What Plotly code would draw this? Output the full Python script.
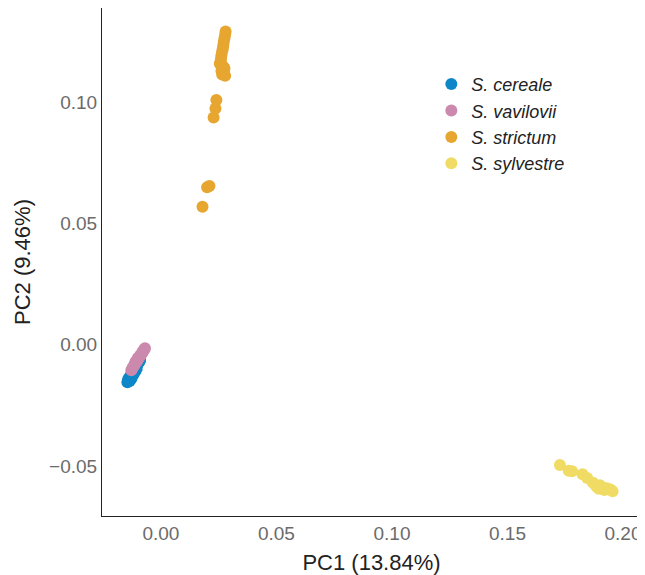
import plotly.graph_objects as go

# ---- data ----
cereale_pc1 = [-0.0145, -0.0143, -0.0140, -0.0138, -0.0136, -0.0133, -0.0131, -0.0129, -0.0127, -0.0125,
               -0.0123, -0.0121, -0.0119, -0.0117, -0.0115, -0.0113, -0.0111, -0.0109, -0.0106, -0.0104,
               -0.0102, -0.0100, -0.0098, -0.0096, -0.0094, -0.0092, -0.0090, -0.0135, -0.0128, -0.0120,
               -0.0112, -0.0105, -0.0141, -0.0132, -0.0124]
cereale_pc2 = [-0.0155, -0.0150, -0.0146, -0.0142, -0.0138, -0.0134, -0.0130, -0.0126, -0.0122, -0.0118,
               -0.0114, -0.0111, -0.0107, -0.0104, -0.0100, -0.0097, -0.0094, -0.0090, -0.0087, -0.0084,
               -0.0081, -0.0078, -0.0075, -0.0072, -0.0069, -0.0066, -0.0063, -0.0150, -0.0140, -0.0125,
               -0.0112, -0.0100, -0.0140, -0.0128, -0.0117]
vavilovii_pc1 = [-0.0128, -0.0124, -0.0120, -0.0116, -0.0112, -0.0108, -0.0104, -0.0100, -0.0096, -0.0092,
                 -0.0088, -0.0084, -0.0080, -0.0076, -0.0072, -0.0069, -0.0110, -0.0100, -0.0090, -0.0080]
vavilovii_pc2 = [-0.0105, -0.0098, -0.0092, -0.0086, -0.0080, -0.0074, -0.0068, -0.0062, -0.0056, -0.0050,
                 -0.0044, -0.0038, -0.0032, -0.0026, -0.0020, -0.0015, -0.0070, -0.0055, -0.0045, -0.0030]
strictum_pc1 = [0.0280, 0.0278, 0.0275, 0.0272, 0.0270, 0.0268, 0.0265, 0.0262, 0.0260, 0.0258,
                0.0262, 0.0268, 0.0272, 0.0275, 0.0270, 0.0265, 0.0255, 0.0262, 0.0270, 0.0278,
                0.0240, 0.0236, 0.0228, 0.0210, 0.0200, 0.0180]
strictum_pc2 = [0.1293, 0.1280, 0.1265, 0.1250, 0.1235, 0.1222, 0.1210, 0.1195, 0.1180, 0.1168,
                0.1155, 0.1150, 0.1145, 0.1140, 0.1125, 0.1115, 0.1160, 0.1130, 0.1120, 0.1110,
                0.1010, 0.0975, 0.0938, 0.0655, 0.0650, 0.0570]
sylvestre_pc1 = [0.1727, 0.1765, 0.1780, 0.1825, 0.1845, 0.1870, 0.1885, 0.1900, 0.1915, 0.1930,
                 0.1945, 0.1955, 0.1920, 0.1895]
sylvestre_pc2 = [-0.0496, -0.0520, -0.0522, -0.0535, -0.0550, -0.0570, -0.0585, -0.0580, -0.0590, -0.0592,
                 -0.0598, -0.0605, -0.0600, -0.0595]

series = [
    ("<i>S. cereale</i>", cereale_pc1, cereale_pc2, "#0D87C7"),
    ("<i>S. vavilovii</i>", vavilovii_pc1, vavilovii_pc2, "#CC89AE"),
    ("<i>S. strictum</i>", strictum_pc1, strictum_pc2, "#E6A630"),
    ("<i>S. sylvestre</i>", sylvestre_pc1, sylvestre_pc2, "#F0DC64"),
]

fig = go.Figure()
for name, xs, ys, col in series:
    fig.add_trace(go.Scatter(x=xs, y=ys, mode="markers", name=name,
                             marker=dict(color=col, size=12, line=dict(width=0))))

FONT = "Liberation Sans, Arial, Helvetica, sans-serif"
axis_common = dict(showgrid=False, zeroline=False, showline=True, linecolor="#222222", linewidth=1,
                   ticks="", tickfont=dict(family=FONT, size=19, color="#6B6B6B"),
                   title_font=dict(family=FONT, size=22, color="#222222"),
                   mirror=False, tickformat=".2f")

fig.update_layout(
    width=637, height=567,
    margin=dict(l=94, r=4, t=0, b=59),
    paper_bgcolor="white", plot_bgcolor="white",
    xaxis=dict(range=[-0.0255, 0.2078], tickvals=[0.0, 0.05, 0.10, 0.15, 0.20],
               title=dict(text="PC1 (13.84%)", standoff=12), **axis_common),
    yaxis=dict(range=[-0.0707, 0.139], tickvals=[-0.05, 0.0, 0.05, 0.10],
               title=dict(text="PC2 (9.46%)", standoff=12), **axis_common),
    legend=dict(x=0.611, y=0.886, xanchor="left", yanchor="top", bgcolor="rgba(0,0,0,0)",
                font=dict(family=FONT, size=18, color="#222222"),
                itemsizing="constant", tracegroupgap=0),
    showlegend=True,
)

fig.write_html("out.html")
